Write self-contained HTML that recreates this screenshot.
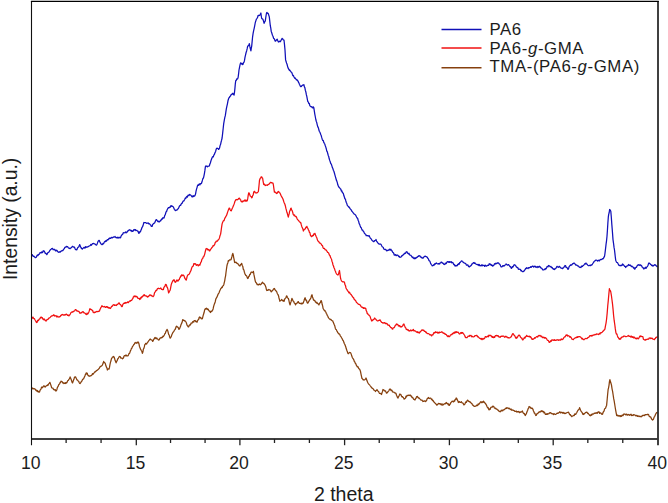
<!DOCTYPE html>
<html><head><meta charset="utf-8">
<style>
html,body{margin:0;padding:0;background:#fff;}
body{width:668px;height:503px;overflow:hidden;}
svg{display:block;font-family:"Liberation Sans",sans-serif;}
</style></head>
<body>
<svg width="668" height="503" viewBox="0 0 668 503">
<rect x="0" y="0" width="668" height="503" fill="#fff"/>
<defs><filter id="bl" x="-5%" y="-5%" width="110%" height="110%" color-interpolation-filters="sRGB"><feGaussianBlur stdDeviation="0.3"/></filter></defs>
<g fill="none" stroke-width="1.25" stroke-linejoin="round" filter="url(#bl)">
<polyline stroke="#1010b8" points="31.80,254.70 32.31,254.62 32.83,256.04 33.34,256.35 33.86,256.07 34.37,256.84 34.89,257.20 35.40,257.70 35.92,257.39 36.45,257.05 36.98,255.56 37.50,254.94 38.02,255.55 38.55,254.46 39.08,254.39 39.60,253.50 40.12,252.50 40.65,252.82 41.17,252.91 41.70,251.92 42.23,252.62 42.75,252.26 43.27,250.74 43.80,251.10 44.30,251.04 44.80,252.36 45.30,253.51 45.80,253.33 46.30,253.70 46.80,254.70 47.28,253.99 47.76,252.84 48.24,252.51 48.72,252.21 49.20,251.69 49.68,250.73 50.16,250.12 50.64,249.51 51.12,249.24 51.60,248.70 52.10,248.58 52.60,248.37 53.10,249.69 53.60,249.46 54.10,249.76 54.60,249.29 55.10,249.90 55.62,250.86 56.15,250.95 56.67,250.19 57.20,250.77 57.73,251.59 58.25,251.85 58.77,252.44 59.30,252.10 59.80,251.72 60.30,252.03 60.80,251.54 61.30,250.76 61.80,250.89 62.30,250.50 62.82,250.51 63.35,249.93 63.88,248.93 64.40,248.52 64.92,247.22 65.45,246.99 65.97,247.24 66.50,246.30 67.01,246.52 67.53,246.53 68.04,247.40 68.56,247.96 69.07,248.26 69.59,248.18 70.10,248.70 70.58,248.13 71.06,247.75 71.54,247.65 72.02,246.81 72.50,246.30 73.03,246.60 73.55,247.19 74.08,246.99 74.60,247.46 75.12,248.83 75.65,249.68 76.17,249.58 76.70,249.90 77.20,248.87 77.70,247.67 78.20,247.25 78.70,247.04 79.20,245.86 79.70,244.60 80.15,245.68 80.60,247.15 81.05,247.30 81.50,248.70 81.98,248.54 82.46,248.97 82.94,248.27 83.42,247.92 83.90,247.48 84.38,247.69 84.86,248.08 85.34,246.57 85.82,247.48 86.30,246.90 86.81,247.18 87.33,247.10 87.84,246.72 88.36,246.65 88.87,246.07 89.39,245.96 89.90,245.70 90.41,245.27 90.93,244.42 91.44,245.23 91.96,244.48 92.47,243.64 92.99,243.74 93.50,243.40 94.00,243.66 94.50,243.77 95.00,244.03 95.50,244.59 96.00,244.99 96.50,245.10 96.98,244.32 97.46,243.16 97.94,241.62 98.42,240.96 98.90,240.40 99.40,240.65 99.90,241.92 100.40,243.01 100.90,243.62 101.40,244.32 101.90,244.60 102.40,244.61 102.90,243.40 103.40,243.79 103.90,243.13 104.40,241.87 104.90,241.35 105.40,241.60 105.93,240.55 106.45,241.21 106.97,240.12 107.50,239.55 108.03,239.90 108.55,239.13 109.07,238.37 109.60,238.60 110.07,237.96 110.53,238.30 111.00,238.10 111.51,237.46 112.03,237.44 112.54,237.88 113.06,237.35 113.57,236.99 114.09,237.03 114.60,236.90 115.05,236.48 115.50,237.24 115.95,237.54 116.40,237.90 116.93,237.41 117.45,237.25 117.97,238.31 118.50,237.71 119.03,237.24 119.55,237.75 120.07,237.99 120.60,237.50 121.10,236.03 121.60,235.23 122.10,234.61 122.60,234.61 123.10,233.02 123.60,232.70 124.10,232.89 124.60,232.75 125.10,232.46 125.60,231.91 126.10,232.87 126.60,232.10 127.10,232.12 127.60,231.32 128.10,230.51 128.60,230.71 129.10,229.95 129.60,229.70 130.06,230.17 130.52,230.17 130.98,230.96 131.44,230.52 131.90,231.50 132.38,230.82 132.86,231.36 133.34,230.83 133.82,229.63 134.30,229.50 134.78,230.16 135.26,229.55 135.74,230.60 136.22,230.48 136.70,230.30 137.18,230.78 137.66,231.15 138.14,231.41 138.62,233.23 139.10,233.30 139.58,231.81 140.06,232.07 140.54,231.43 141.02,230.04 141.50,229.10 141.98,227.32 142.46,226.97 142.94,225.80 143.42,224.11 143.90,222.50 144.38,222.63 144.86,222.57 145.34,222.65 145.82,222.57 146.30,223.10 146.80,223.44 147.30,223.21 147.80,222.97 148.30,222.95 148.80,223.83 149.30,223.70 149.78,223.95 150.26,224.78 150.74,225.08 151.22,226.38 151.70,226.40 152.18,226.30 152.66,224.41 153.14,224.00 153.62,223.52 154.10,223.10 154.58,223.08 155.06,222.10 155.54,220.77 156.02,219.90 156.50,219.60 156.98,220.30 157.46,220.99 157.94,221.59 158.42,221.22 158.90,221.90 159.38,221.98 159.86,221.24 160.34,220.50 160.82,220.74 161.30,219.60 161.80,218.83 162.30,219.12 162.80,217.82 163.30,217.54 163.80,218.18 164.30,217.20 164.75,215.45 165.20,214.86 165.65,213.29 166.10,211.80 166.58,211.44 167.06,209.94 167.54,209.06 168.02,208.15 168.50,207.60 169.00,207.81 169.50,207.15 170.00,207.34 170.50,206.94 171.00,205.59 171.50,205.80 171.98,206.35 172.46,206.21 172.94,206.59 173.42,207.12 173.90,208.20 174.35,209.31 174.80,209.80 175.25,210.46 175.70,210.60 176.18,210.02 176.66,210.04 177.14,209.91 177.62,208.99 178.10,208.80 178.60,208.13 179.10,206.87 179.60,205.90 180.10,205.39 180.60,205.49 181.10,204.26 181.60,203.40 182.13,203.30 182.67,201.94 183.20,200.99 183.73,201.00 184.27,200.36 184.80,199.20 185.32,197.98 185.84,198.37 186.37,197.03 186.89,196.53 187.41,197.07 187.93,195.36 188.46,195.10 188.98,195.62 189.50,194.40 189.98,194.77 190.46,194.82 190.94,195.37 191.42,195.96 191.90,196.80 192.43,196.87 192.97,195.71 193.50,196.58 194.03,195.56 194.57,196.13 195.10,195.20 195.58,193.87 196.06,191.11 196.54,189.15 197.02,187.57 197.50,185.70 198.00,184.84 198.50,185.31 199.00,184.16 199.50,183.81 200.00,184.88 200.50,183.61 201.00,183.74 201.50,183.30 201.98,181.79 202.46,180.16 202.94,178.37 203.42,178.12 203.90,176.10 204.40,173.59 204.90,170.42 205.40,166.60 205.90,165.96 206.40,166.00 206.90,166.46 207.40,166.87 207.90,166.16 208.40,166.26 208.90,166.13 209.40,165.80 209.88,164.02 210.36,162.98 210.84,161.21 211.32,159.68 211.80,158.60 212.28,157.23 212.76,156.73 213.24,156.94 213.72,155.41 214.20,154.70 214.68,153.63 215.16,152.34 215.64,151.48 216.12,149.43 216.60,148.30 217.08,148.19 217.56,148.38 218.04,148.52 218.52,149.43 219.00,149.10 219.53,148.05 220.07,145.62 220.60,144.30 221.10,141.97 221.60,140.16 222.10,138.00 222.63,133.31 223.17,128.53 223.70,123.60 224.23,120.61 224.77,117.66 225.30,115.70 225.83,112.14 226.37,108.70 226.90,106.10 227.43,103.81 227.97,100.77 228.50,99.00 228.98,97.61 229.46,97.59 229.94,96.31 230.42,96.21 230.90,95.00 231.43,94.46 231.97,94.44 232.50,93.40 233.03,93.45 233.57,94.47 234.10,95.00 234.50,92.21 234.90,88.60 235.30,84.06 235.70,80.70 236.18,80.69 236.66,78.96 237.14,79.17 237.62,78.82 238.10,77.50 238.55,74.20 239.00,70.00 239.53,67.35 240.07,64.65 240.60,62.80 241.08,63.14 241.56,64.03 242.04,63.47 242.52,64.63 243.00,64.40 243.50,62.57 244.00,62.31 244.50,60.40 245.03,57.11 245.57,54.88 246.10,52.50 246.63,50.93 247.17,48.66 247.70,46.10 248.23,45.87 248.77,44.98 249.30,43.70 249.83,46.44 250.37,48.77 250.90,50.90 251.30,48.05 251.70,46.10 252.15,41.36 252.60,36.80 253.15,33.12 253.70,30.40 254.23,28.07 254.77,25.37 255.30,22.50 255.83,20.82 256.37,19.22 256.90,18.50 257.50,17.55 258.10,15.30 258.63,15.73 259.17,15.37 259.70,15.30 260.30,14.21 260.90,13.00 261.30,16.24 261.70,18.50 262.30,18.83 262.90,19.30 263.50,21.15 264.10,23.30 264.70,21.87 265.30,20.90 265.90,16.61 266.50,13.00 267.03,12.43 267.57,13.41 268.10,13.30 268.70,14.98 269.30,16.90 269.80,21.40 270.30,25.70 270.75,27.84 271.20,31.20 271.80,33.00 272.40,35.20 273.00,36.29 273.60,38.40 274.10,38.58 274.60,39.46 275.10,40.96 275.60,41.20 276.13,40.39 276.67,39.73 277.20,39.20 277.80,40.76 278.40,42.00 278.90,41.53 279.40,41.11 279.90,41.74 280.40,41.60 280.93,40.53 281.47,39.68 282.00,38.40 282.50,38.71 283.00,39.46 283.50,39.92 284.00,40.00 284.50,44.63 285.00,50.00 285.60,59.90 286.08,61.47 286.56,63.03 287.04,64.26 287.52,66.10 288.00,67.80 288.48,68.55 288.97,69.70 289.45,70.38 289.93,70.15 290.42,71.34 290.90,71.80 291.40,72.00 291.90,72.87 292.40,74.32 292.90,75.66 293.40,75.49 293.90,76.80 294.40,77.67 294.90,78.34 295.40,78.04 295.90,79.07 296.40,79.79 296.90,79.62 297.40,80.58 297.90,80.80 298.40,82.11 298.90,82.90 299.40,84.25 299.90,85.29 300.40,86.36 300.90,86.70 301.40,86.47 301.90,85.58 302.40,85.35 302.90,84.97 303.40,85.13 303.90,84.70 304.38,86.81 304.85,87.57 305.32,90.20 305.80,91.70 306.30,94.48 306.80,96.44 307.30,99.15 307.80,101.60 308.30,101.96 308.80,103.59 309.30,103.46 309.80,105.61 310.30,106.20 310.80,106.60 311.30,106.95 311.80,106.61 312.30,107.68 312.80,107.91 313.30,106.93 313.80,107.60 314.30,110.96 314.80,114.03 315.30,116.75 315.80,119.50 316.30,121.45 316.80,122.76 317.30,125.09 317.80,126.83 318.30,127.67 318.80,129.50 319.28,131.24 319.77,132.04 320.25,132.98 320.73,134.52 321.22,135.56 321.70,137.40 322.21,139.17 322.73,140.44 323.24,140.47 323.76,142.34 324.27,143.27 324.79,144.07 325.30,145.80 325.79,147.14 326.27,148.70 326.76,151.02 327.25,151.61 327.74,153.49 328.23,155.46 328.71,156.50 329.20,158.80 329.72,160.40 330.24,161.79 330.76,163.53 331.28,164.07 331.80,165.60 332.32,167.38 332.84,168.42 333.36,170.28 333.88,171.23 334.40,173.00 334.89,174.87 335.38,176.63 335.86,178.27 336.35,180.11 336.84,181.13 337.32,182.66 337.81,184.79 338.30,185.90 338.81,187.06 339.32,187.56 339.83,188.08 340.34,188.72 340.85,189.25 341.36,191.01 341.87,190.83 342.38,192.49 342.89,192.98 343.40,193.70 343.89,195.80 344.38,196.97 344.86,198.71 345.35,198.99 345.84,200.95 346.32,202.50 346.81,203.59 347.30,205.30 347.82,205.95 348.34,206.40 348.86,207.29 349.38,207.20 349.90,208.47 350.42,209.13 350.94,209.58 351.46,210.36 351.98,211.55 352.50,211.80 353.01,212.70 353.52,213.07 354.03,213.93 354.54,214.19 355.05,214.59 355.56,214.95 356.07,215.97 356.58,217.06 357.09,218.09 357.60,218.20 358.12,220.22 358.64,221.34 359.16,223.56 359.68,224.39 360.20,226.00 360.70,227.34 361.20,227.61 361.70,228.94 362.20,230.15 362.70,230.06 363.20,231.20 363.70,231.49 364.20,232.87 364.70,233.49 365.20,234.00 365.70,234.25 366.20,235.70 366.70,235.54 367.20,235.60 367.70,235.57 368.20,236.21 368.70,235.82 369.20,235.70 369.66,236.79 370.12,237.78 370.58,238.33 371.04,238.73 371.50,239.50 372.05,240.39 372.60,240.80 373.15,241.36 373.70,241.70 374.16,241.44 374.62,240.69 375.08,240.56 375.54,240.13 376.00,239.50 376.55,241.04 377.10,241.75 377.65,242.76 378.20,243.20 378.70,243.82 379.20,244.14 379.70,244.10 380.20,243.99 380.70,244.12 381.20,244.70 381.70,245.74 382.20,246.72 382.70,247.01 383.20,247.21 383.70,248.92 384.20,249.20 384.70,249.43 385.20,249.65 385.70,249.31 386.20,250.21 386.70,250.79 387.20,250.70 387.73,250.38 388.26,250.07 388.79,250.28 389.31,249.17 389.84,249.64 390.37,250.04 390.90,249.20 391.38,250.22 391.85,250.56 392.32,251.71 392.80,252.35 393.27,252.54 393.75,253.29 394.22,254.99 394.70,255.20 395.20,254.88 395.70,254.60 396.20,255.66 396.70,255.23 397.20,255.02 397.70,255.20 398.25,255.77 398.80,256.63 399.35,256.39 399.90,257.40 400.40,257.25 400.90,256.97 401.40,256.74 401.90,255.61 402.40,255.72 402.90,255.20 403.43,254.32 403.96,254.29 404.49,253.24 405.01,253.61 405.54,253.21 406.07,251.96 406.60,251.70 407.08,251.75 407.55,253.22 408.02,253.30 408.50,253.93 408.98,253.23 409.45,254.88 409.92,254.93 410.40,255.20 410.93,255.43 411.46,256.08 411.99,257.02 412.51,257.54 413.04,257.19 413.57,258.29 414.10,258.60 414.56,257.89 415.02,258.78 415.48,257.80 415.94,258.22 416.40,257.40 416.90,257.47 417.40,257.05 417.90,256.32 418.40,256.44 418.90,255.64 419.40,255.90 419.90,255.78 420.40,256.97 420.90,256.86 421.40,257.79 421.90,257.45 422.40,258.20 422.90,258.17 423.40,257.84 423.90,256.93 424.40,256.32 424.90,256.39 425.40,256.20 425.90,256.64 426.40,256.54 426.90,257.11 427.40,257.38 427.90,258.59 428.40,258.90 428.95,260.57 429.50,260.75 430.05,261.62 430.60,263.40 431.15,264.26 431.70,264.99 432.25,265.77 432.80,265.70 433.30,265.48 433.80,264.71 434.30,265.02 434.80,263.63 435.30,264.05 435.80,263.40 436.30,262.97 436.80,263.53 437.30,263.79 437.80,263.76 438.30,263.60 438.80,264.20 439.26,263.42 439.72,263.85 440.18,262.95 440.64,262.71 441.10,262.20 441.63,262.08 442.16,263.07 442.69,262.82 443.21,263.47 443.74,264.20 444.27,264.61 444.80,264.20 445.30,263.13 445.80,263.75 446.30,263.40 446.80,262.21 447.30,261.87 447.80,261.60 448.30,261.76 448.80,262.29 449.30,261.61 449.80,262.33 450.30,262.21 450.80,261.90 451.27,261.61 451.73,262.88 452.20,262.50 452.70,262.44 453.20,263.24 453.70,264.58 454.20,264.35 454.70,265.41 455.20,266.20 455.70,265.43 456.20,265.65 456.70,265.93 457.20,265.77 457.70,264.30 458.20,264.70 458.68,263.62 459.15,264.25 459.62,262.67 460.10,262.53 460.57,261.85 461.05,261.35 461.52,260.80 462.00,261.00 462.50,261.56 463.00,262.08 463.50,262.36 464.00,262.95 464.50,263.06 465.00,263.20 465.50,263.46 466.00,264.21 466.50,265.09 467.00,265.04 467.50,264.90 468.00,265.05 468.50,266.69 469.00,266.62 469.50,266.90 470.00,266.20 470.50,266.07 471.00,265.52 471.50,264.98 472.00,263.84 472.50,263.76 473.00,263.36 473.50,262.57 474.00,262.50 474.48,263.33 474.97,262.99 475.45,263.63 475.93,264.00 476.42,264.34 476.90,264.30 477.38,264.75 477.85,264.93 478.32,264.36 478.80,265.52 479.27,264.50 479.75,265.71 480.22,265.76 480.70,265.40 481.20,265.89 481.70,264.77 482.20,264.83 482.70,265.84 483.20,265.36 483.70,265.40 484.20,265.35 484.70,266.35 485.20,265.16 485.70,265.98 486.20,265.99 486.70,266.20 487.20,265.31 487.70,265.32 488.20,265.39 488.70,265.27 489.20,263.70 489.70,264.00 490.20,264.40 490.70,264.16 491.20,265.52 491.70,264.89 492.20,265.18 492.70,266.20 493.20,265.54 493.70,265.53 494.20,264.44 494.70,263.68 495.20,264.11 495.70,263.20 496.20,263.63 496.70,263.70 497.20,262.93 497.70,263.09 498.20,262.84 498.70,263.20 499.18,263.90 499.67,264.20 500.15,264.82 500.63,266.06 501.12,266.92 501.60,266.90 502.10,266.70 502.60,265.70 503.10,266.15 503.60,265.54 504.10,265.97 504.60,265.27 505.10,265.11 505.60,264.60 506.10,264.00 506.60,264.28 507.10,265.02 507.60,265.16 508.10,264.64 508.60,264.69 509.10,265.40 509.56,265.82 510.02,266.63 510.48,266.64 510.94,267.58 511.40,268.40 511.90,267.89 512.40,266.53 512.90,266.99 513.40,266.14 513.90,265.06 514.40,264.70 514.90,264.92 515.40,265.49 515.90,265.96 516.40,267.05 516.90,267.20 517.40,267.74 517.90,267.71 518.40,269.28 518.90,269.20 519.40,269.20 519.90,269.45 520.40,269.33 520.90,270.85 521.40,270.39 521.90,271.24 522.40,271.51 522.90,271.81 523.40,271.40 523.95,271.09 524.50,270.50 525.05,269.74 525.60,268.40 526.10,268.71 526.60,267.66 527.10,268.08 527.60,268.04 528.10,268.51 528.60,267.70 529.13,267.88 529.66,267.56 530.19,267.40 530.71,266.65 531.24,267.25 531.77,266.62 532.30,266.20 532.77,266.15 533.25,266.33 533.73,267.13 534.20,266.59 534.67,266.17 535.15,266.23 535.62,267.07 536.10,266.90 536.63,266.99 537.16,267.47 537.69,266.46 538.21,266.78 538.74,267.22 539.27,266.27 539.80,266.90 540.30,266.84 540.80,267.96 541.30,268.07 541.80,268.35 542.30,269.07 542.80,269.90 543.35,270.01 543.90,269.79 544.45,269.08 545.00,269.60 545.50,268.38 546.00,268.85 546.50,267.94 547.00,266.66 547.50,266.50 548.00,266.83 548.50,265.48 549.00,265.79 549.50,265.80 550.00,266.63 550.50,266.77 551.00,266.52 551.50,267.71 552.00,267.50 552.50,268.04 553.00,268.81 553.50,269.25 554.00,269.00 554.50,269.50 555.00,269.11 555.50,268.28 556.00,268.20 556.50,267.36 557.00,266.30 557.50,266.73 558.00,266.97 558.50,267.35 559.00,266.43 559.50,266.47 560.00,267.00 560.50,267.69 561.00,268.06 561.50,268.04 562.00,268.34 562.50,268.70 563.00,267.93 563.50,267.96 564.00,267.19 564.50,266.26 565.00,265.50 565.50,265.51 566.00,267.29 566.50,267.39 567.00,267.67 567.50,268.47 568.00,269.40 568.50,268.79 569.00,266.95 569.50,266.23 570.00,265.60 570.50,265.00 571.00,265.26 571.50,264.77 572.00,264.80 572.50,263.92 573.00,263.67 573.50,263.36 574.00,263.00 574.50,263.44 575.00,263.86 575.50,264.65 576.00,265.23 576.50,265.00 577.00,265.23 577.50,265.90 578.00,265.80 578.50,266.15 579.00,266.79 579.50,267.26 580.00,267.50 580.50,267.24 581.00,267.50 581.50,266.03 582.00,266.36 582.50,266.53 583.00,265.50 583.50,265.41 584.00,264.76 584.50,264.07 585.00,263.70 585.50,264.03 586.00,263.00 586.50,264.00 587.00,264.14 587.50,264.91 588.00,265.40 588.50,265.73 589.00,265.70 589.50,265.37 590.00,265.32 590.50,265.61 591.00,264.86 591.50,265.22 592.00,264.70 592.50,264.01 593.00,263.14 593.50,262.64 594.00,261.50 594.50,261.16 595.00,260.70 595.50,260.56 596.00,259.98 596.50,260.17 597.00,260.26 597.50,261.08 598.00,260.68 598.50,260.23 599.00,260.50 599.50,260.92 600.00,259.61 600.50,259.69 601.00,259.40 601.50,259.52 602.00,259.23 602.50,258.65 603.00,258.91 603.50,258.30 604.05,257.13 604.60,256.00 605.10,252.40 605.60,248.20 606.07,244.19 606.53,240.86 607.00,236.20 607.43,230.17 607.87,222.96 608.30,217.20 608.73,214.11 609.17,212.72 609.60,209.50 610.20,209.97 610.80,211.20 611.30,216.99 611.80,224.10 612.40,231.50 613.00,239.60 613.50,243.04 614.00,247.17 614.50,250.00 614.90,253.36 615.30,257.00 615.70,260.20 616.13,261.28 616.57,262.20 617.00,262.50 617.50,262.52 618.00,263.86 618.50,264.30 619.00,265.49 619.50,265.37 620.00,265.80 620.50,265.60 621.00,265.09 621.50,265.67 622.00,265.46 622.50,263.99 623.00,264.30 623.54,265.01 624.08,265.47 624.62,266.46 625.16,266.33 625.70,267.50 626.17,266.67 626.63,266.19 627.10,265.97 627.57,265.91 628.03,265.50 628.50,264.50 629.00,265.20 629.50,265.35 630.00,264.82 630.50,265.55 631.00,266.00 631.50,266.49 632.00,266.21 632.50,266.76 633.00,267.00 633.50,268.07 634.00,267.46 634.50,269.00 635.00,269.00 635.50,267.70 636.00,267.34 636.50,267.32 637.00,266.00 637.50,265.21 638.00,265.28 638.50,264.76 639.00,264.50 639.50,265.24 640.00,265.59 640.50,264.80 641.00,265.29 641.50,265.50 642.00,266.88 642.50,267.21 643.00,267.58 643.50,268.80 644.00,268.95 644.50,268.14 645.00,268.13 645.50,267.25 646.00,268.40 646.50,267.50 647.00,266.82 647.50,266.30 648.00,265.46 648.50,263.57 649.00,263.00 649.50,263.43 650.00,263.67 650.50,264.49 651.00,264.50 651.50,265.48 652.00,265.12 652.50,266.00 653.00,265.48 653.50,265.89 654.00,265.28 654.50,264.68 655.00,265.00 655.50,264.83 656.00,265.61 656.50,265.92 657.00,266.68 657.50,266.30"/>
<polyline stroke="#f01010" points="31.80,318.90 32.40,317.49 33.00,317.10 33.45,318.19 33.90,318.67 34.35,318.56 34.80,319.50 35.25,320.24 35.70,320.93 36.15,321.96 36.60,322.50 37.08,322.30 37.56,320.73 38.04,320.04 38.52,320.57 39.00,319.50 39.48,318.93 39.96,318.91 40.44,317.36 40.92,317.50 41.40,317.10 41.85,317.86 42.30,317.62 42.75,319.07 43.20,318.90 43.68,319.82 44.16,318.96 44.64,319.32 45.12,320.40 45.60,320.70 46.08,321.07 46.56,320.05 47.04,319.58 47.52,319.63 48.00,319.50 48.48,318.36 48.96,318.15 49.44,317.97 49.92,317.57 50.40,317.10 50.90,316.43 51.40,316.12 51.90,315.81 52.40,315.84 52.90,315.31 53.40,315.30 53.86,314.75 54.32,316.01 54.78,315.74 55.24,315.98 55.70,315.90 56.20,315.66 56.70,316.99 57.20,317.00 57.70,316.17 58.20,316.67 58.70,317.10 59.20,317.01 59.70,316.60 60.20,316.51 60.70,315.39 61.20,315.56 61.70,314.70 62.20,314.94 62.70,314.42 63.20,314.82 63.70,315.24 64.20,315.18 64.70,314.70 65.18,314.71 65.66,314.82 66.14,314.05 66.62,314.34 67.10,314.70 67.55,315.42 68.00,315.18 68.45,315.14 68.90,315.90 69.38,315.25 69.86,314.74 70.34,313.98 70.82,312.84 71.30,312.30 71.80,312.01 72.30,311.91 72.80,312.09 73.30,311.53 73.80,311.15 74.30,311.10 74.75,310.79 75.20,309.84 75.65,309.56 76.10,309.90 76.55,310.48 77.00,311.18 77.45,310.93 77.90,311.10 78.38,311.31 78.86,311.36 79.34,312.18 79.82,313.21 80.30,312.90 80.80,313.08 81.30,312.56 81.80,312.80 82.30,311.73 82.80,311.92 83.30,311.70 83.78,312.81 84.26,312.77 84.74,313.08 85.22,313.30 85.70,314.10 86.18,314.05 86.66,314.50 87.14,313.05 87.62,314.02 88.10,313.50 88.55,312.75 89.00,311.64 89.45,310.24 89.90,308.70 90.35,309.43 90.80,309.33 91.25,309.69 91.70,309.90 92.18,310.40 92.66,310.48 93.14,312.22 93.62,312.40 94.10,312.90 94.58,312.24 95.06,312.43 95.54,312.16 96.02,311.74 96.50,311.70 97.00,311.38 97.50,311.55 98.00,311.57 98.50,311.46 99.00,311.14 99.50,311.10 99.98,309.36 100.46,308.56 100.94,307.41 101.42,306.90 101.90,305.70 102.40,306.41 102.90,306.52 103.40,306.72 103.90,306.94 104.40,306.36 104.90,306.90 105.36,307.46 105.82,307.30 106.28,306.56 106.74,306.54 107.20,307.30 107.73,306.82 108.27,308.06 108.80,307.55 109.33,307.55 109.87,308.47 110.40,308.50 110.90,307.68 111.40,306.70 111.90,306.22 112.40,306.14 112.90,305.04 113.40,304.90 113.90,304.68 114.40,305.40 114.90,305.14 115.40,305.05 115.90,305.36 116.40,305.50 116.90,304.43 117.40,304.54 117.90,304.19 118.40,303.46 118.90,302.95 119.40,303.10 119.88,304.38 120.36,304.55 120.84,304.85 121.32,306.13 121.80,306.70 122.28,306.42 122.76,304.59 123.24,303.87 123.72,303.33 124.20,303.10 124.70,303.31 125.20,302.42 125.70,303.09 126.20,302.95 126.70,302.66 127.20,302.50 127.68,301.87 128.16,302.69 128.64,302.20 129.12,301.56 129.60,301.30 130.06,300.67 130.52,301.03 130.98,300.43 131.44,300.45 131.90,300.10 132.38,299.01 132.86,298.60 133.34,296.96 133.82,296.46 134.30,295.90 134.78,296.68 135.26,296.67 135.74,295.99 136.22,296.88 136.70,296.50 137.20,296.73 137.70,298.12 138.20,298.34 138.70,298.38 139.20,298.65 139.70,299.50 140.18,298.21 140.66,298.83 141.14,297.05 141.62,297.55 142.10,296.50 142.58,296.79 143.06,295.88 143.54,294.96 144.02,295.57 144.50,294.70 145.00,295.76 145.50,295.79 146.00,295.91 146.50,296.13 147.00,296.49 147.50,297.10 148.00,296.34 148.50,296.64 149.00,295.96 149.50,295.27 150.00,294.80 150.50,295.00 151.00,295.57 151.50,295.39 152.00,296.02 152.50,296.12 153.00,296.70 153.50,296.17 154.00,295.16 154.50,292.88 155.00,292.08 155.50,291.21 156.00,290.40 156.45,290.63 156.90,289.90 157.35,288.82 157.80,288.60 158.34,288.08 158.88,288.60 159.42,288.71 159.96,288.73 160.50,288.00 160.98,288.14 161.46,289.26 161.94,289.34 162.42,289.42 162.90,289.80 163.40,289.48 163.90,287.43 164.40,286.80 164.90,286.32 165.40,284.62 165.90,284.40 166.40,284.94 166.90,286.98 167.40,287.40 168.00,289.70 168.60,292.80 169.05,292.26 169.50,291.14 169.95,290.58 170.40,289.20 170.85,286.62 171.30,284.40 171.90,282.68 172.50,281.40 173.00,280.51 173.50,280.71 174.00,279.60 174.55,281.10 175.10,282.30 175.60,282.24 176.10,281.44 176.60,280.20 177.10,279.99 177.60,280.87 178.10,281.10 178.70,279.80 179.30,279.60 179.75,277.90 180.20,277.50 180.70,276.00 181.20,276.21 181.70,274.80 182.22,275.35 182.75,275.56 183.28,275.03 183.80,275.40 184.30,276.76 184.80,278.19 185.30,279.00 185.75,279.43 186.20,280.20 186.65,278.50 187.10,276.60 187.55,275.61 188.00,274.81 188.45,274.47 188.90,274.20 189.45,273.85 190.00,272.40 190.47,271.29 190.95,270.60 191.43,268.74 191.90,267.60 192.38,266.49 192.86,266.40 193.34,265.66 193.82,263.72 194.30,263.60 194.78,264.16 195.26,263.67 195.74,264.02 196.22,265.42 196.70,265.20 197.23,264.56 197.77,264.84 198.30,265.88 198.83,265.09 199.37,264.66 199.90,265.20 200.38,263.45 200.86,262.28 201.34,261.70 201.82,259.52 202.30,258.80 202.78,258.44 203.26,256.75 203.74,256.64 204.22,255.61 204.70,254.10 205.20,251.94 205.70,250.02 206.20,248.50 206.73,248.87 207.27,248.74 207.80,249.91 208.33,249.46 208.87,249.81 209.40,250.90 209.93,250.91 210.47,249.28 211.00,249.04 211.53,248.16 212.07,247.31 212.60,246.90 213.13,245.49 213.67,245.88 214.20,245.16 214.73,244.36 215.27,242.36 215.80,242.10 216.33,241.18 216.87,241.23 217.40,241.22 217.93,240.09 218.47,239.78 219.00,239.00 219.53,237.63 220.07,235.46 220.60,234.20 221.10,230.82 221.60,227.06 222.10,223.90 222.58,222.58 223.06,221.39 223.54,220.71 224.02,220.74 224.50,219.10 225.02,217.95 225.54,217.15 226.06,216.06 226.58,215.40 227.10,213.70 227.62,212.15 228.15,210.63 228.67,209.26 229.20,208.10 229.72,208.54 230.25,209.99 230.78,210.75 231.30,210.90 231.80,209.40 232.30,208.22 232.80,207.29 233.30,206.00 233.83,204.74 234.35,203.38 234.88,201.52 235.40,200.50 235.93,199.65 236.45,199.79 236.97,199.38 237.50,199.80 238.03,199.52 238.55,198.50 239.07,198.16 239.60,198.40 240.12,199.46 240.65,199.86 241.17,201.43 241.70,201.90 242.17,201.66 242.63,201.94 243.10,200.72 243.57,200.97 244.03,201.15 244.50,200.50 244.97,199.91 245.43,201.13 245.90,200.04 246.37,200.89 246.83,201.18 247.30,200.50 247.77,198.38 248.23,195.11 248.70,192.80 249.20,193.12 249.70,194.57 250.20,196.01 250.70,196.30 251.17,196.48 251.63,197.78 252.10,197.70 252.62,195.62 253.15,195.12 253.67,192.32 254.20,191.40 254.72,191.49 255.25,192.66 255.78,192.88 256.30,192.80 256.82,193.02 257.35,192.58 257.88,192.09 258.40,191.40 258.95,186.12 259.50,180.30 260.07,178.68 260.63,177.87 261.20,176.80 261.67,176.79 262.13,178.03 262.60,178.20 263.15,181.58 263.70,184.50 264.16,184.29 264.62,184.17 265.08,185.57 265.54,185.49 266.00,185.20 266.47,185.15 266.93,185.02 267.40,185.34 267.87,184.67 268.33,184.47 268.80,184.50 269.32,183.75 269.85,183.11 270.38,182.26 270.90,182.40 271.42,182.78 271.95,182.63 272.48,183.02 273.00,183.10 273.47,185.49 273.93,188.90 274.40,192.10 274.92,191.94 275.45,192.28 275.98,192.81 276.50,193.50 277.02,193.44 277.55,192.31 278.08,191.79 278.60,191.40 279.12,192.43 279.65,192.78 280.18,193.34 280.70,194.90 281.20,195.82 281.70,196.65 282.20,197.73 282.70,198.40 283.23,199.71 283.75,201.46 284.27,202.92 284.80,204.00 285.32,205.71 285.85,208.14 286.38,210.20 286.90,212.30 287.37,213.55 287.83,215.44 288.30,217.20 288.77,215.18 289.23,213.57 289.70,210.90 290.17,210.55 290.63,208.72 291.10,208.10 291.62,209.88 292.15,210.62 292.68,212.23 293.20,214.40 293.67,214.77 294.13,215.63 294.60,214.97 295.07,216.17 295.53,216.69 296.00,216.50 296.50,217.11 297.00,218.52 297.50,219.61 298.00,220.00 298.47,220.27 298.93,221.18 299.40,221.68 299.87,221.93 300.33,222.75 300.80,222.70 301.32,224.92 301.84,226.66 302.36,227.78 302.88,228.89 303.40,231.00 303.90,229.99 304.40,229.29 304.90,229.13 305.40,228.73 305.90,227.09 306.40,227.31 306.90,226.40 307.40,227.85 307.90,228.48 308.40,229.85 308.90,230.51 309.40,232.44 309.90,232.62 310.40,235.08 310.90,235.99 311.40,236.70 311.90,236.39 312.40,235.40 312.90,235.82 313.40,235.40 313.90,233.77 314.40,234.17 314.90,233.30 315.39,234.92 315.87,235.81 316.36,237.01 316.84,237.79 317.33,239.61 317.81,240.82 318.30,241.30 318.87,241.70 319.43,242.86 320.00,243.00 320.50,243.53 321.00,243.78 321.50,244.63 322.00,245.50 322.50,245.70 323.00,247.52 323.50,248.32 324.00,248.40 324.50,248.38 325.00,249.57 325.50,249.81 326.00,249.92 326.50,250.68 327.00,251.12 327.50,252.34 328.00,252.50 328.50,252.73 329.00,253.92 329.50,255.20 330.00,255.54 330.50,257.32 331.00,258.22 331.50,259.00 332.00,261.47 332.50,262.59 333.00,265.00 333.50,266.03 334.00,267.73 334.50,268.68 335.00,270.45 335.50,271.32 336.00,273.00 336.50,273.76 337.00,274.41 337.50,274.93 338.00,275.00 338.50,274.16 339.00,272.06 339.50,270.50 340.00,274.24 340.50,278.00 341.00,279.66 341.50,280.71 342.00,281.50 342.50,281.80 343.00,281.74 343.50,281.80 344.00,281.75 344.50,282.50 345.00,284.76 345.50,285.63 346.00,288.00 346.50,289.10 347.00,289.56 347.50,290.90 348.00,291.00 348.50,291.95 349.00,292.83 349.50,292.24 350.00,293.33 350.50,294.02 351.00,294.50 351.50,294.99 352.00,296.00 352.50,296.55 353.00,297.54 353.50,297.55 354.00,299.00 354.48,299.49 354.96,300.06 355.43,300.43 355.91,301.13 356.39,302.23 356.87,302.66 357.34,302.96 357.82,303.74 358.30,304.10 358.81,304.32 359.32,304.46 359.83,304.57 360.34,305.34 360.86,306.18 361.37,306.97 361.88,307.28 362.39,307.23 362.90,307.60 363.37,308.38 363.83,307.75 364.30,308.37 364.77,307.87 365.23,308.44 365.70,308.20 366.20,310.65 366.70,311.46 367.20,313.50 367.66,313.48 368.12,314.55 368.58,314.86 369.04,315.06 369.50,315.70 370.05,316.33 370.60,318.19 371.15,319.57 371.70,321.00 372.20,320.37 372.70,320.51 373.20,319.62 373.70,319.33 374.20,319.06 374.70,318.00 375.20,318.85 375.70,318.99 376.20,319.84 376.70,320.20 377.20,320.71 377.70,321.00 378.16,320.94 378.62,320.39 379.08,320.46 379.54,320.23 380.00,319.80 380.55,321.09 381.10,321.55 381.65,322.31 382.20,322.50 382.68,322.96 383.15,323.12 383.62,322.91 384.10,322.64 384.57,322.61 385.05,323.32 385.52,323.64 386.00,323.20 386.53,323.69 387.06,323.57 387.59,324.95 388.11,324.89 388.64,325.30 389.17,325.13 389.70,326.20 390.20,326.71 390.70,327.54 391.20,327.59 391.70,328.00 392.20,328.92 392.70,329.20 393.23,327.78 393.76,327.72 394.29,327.60 394.81,326.50 395.34,325.35 395.87,325.01 396.40,324.00 396.90,324.51 397.40,324.33 397.90,324.69 398.40,326.01 398.90,325.51 399.40,326.20 399.86,325.74 400.32,326.94 400.78,326.65 401.24,326.58 401.70,326.90 402.25,326.19 402.80,325.78 403.35,324.26 403.90,324.00 404.36,325.25 404.82,326.38 405.28,327.56 405.74,327.84 406.20,329.20 406.70,329.60 407.20,329.32 407.70,330.04 408.20,329.74 408.70,330.86 409.20,330.70 409.73,331.10 410.26,330.23 410.79,329.97 411.31,330.89 411.84,330.42 412.37,330.50 412.90,329.90 413.40,329.49 413.90,330.96 414.40,330.82 414.90,330.64 415.40,331.05 415.90,331.40 416.40,332.02 416.90,332.30 417.40,331.72 417.90,332.58 418.40,332.18 418.90,332.90 419.40,333.06 419.90,331.82 420.40,331.98 420.90,331.22 421.40,330.55 421.90,329.90 422.40,329.82 422.90,330.44 423.40,330.14 423.90,330.39 424.40,331.45 424.90,331.40 425.40,331.59 425.90,332.52 426.40,332.19 426.90,333.24 427.40,333.62 427.90,333.70 428.43,333.74 428.96,333.78 429.49,334.50 430.01,334.95 430.54,334.71 431.07,335.15 431.60,335.90 432.08,334.75 432.55,334.99 433.02,334.87 433.50,333.40 433.98,332.62 434.45,333.04 434.92,332.67 435.40,331.70 435.90,332.55 436.40,332.26 436.90,332.08 437.40,332.97 437.90,332.17 438.40,332.90 438.93,333.07 439.46,332.13 439.99,332.46 440.51,332.49 441.04,332.23 441.57,331.84 442.10,332.20 442.63,332.14 443.16,333.28 443.69,333.09 444.21,333.57 444.74,333.37 445.27,334.39 445.80,334.40 446.30,334.55 446.80,335.30 447.30,336.12 447.80,336.63 448.30,335.68 448.80,336.70 449.30,336.69 449.80,336.36 450.30,335.18 450.80,334.85 451.30,334.70 451.80,334.75 452.30,333.60 452.80,333.85 453.30,332.90 453.78,333.17 454.25,332.24 454.73,333.22 455.20,331.87 455.68,331.97 456.15,332.61 456.62,331.67 457.10,332.20 457.60,332.28 458.10,332.18 458.60,332.90 459.10,333.68 459.60,334.02 460.10,333.70 460.62,332.75 461.15,332.49 461.68,333.28 462.20,332.50 462.68,332.51 463.15,333.48 463.62,333.91 464.10,334.53 464.57,335.09 465.05,336.59 465.52,337.39 466.00,337.70 466.53,337.63 467.06,337.53 467.59,336.94 468.11,336.23 468.64,336.24 469.17,336.39 469.70,335.40 470.18,335.79 470.65,335.42 471.12,335.35 471.60,336.76 472.07,336.46 472.55,336.31 473.02,336.86 473.50,336.90 474.00,336.73 474.50,336.43 475.00,335.54 475.50,335.69 476.00,335.53 476.50,335.40 477.03,335.41 477.56,336.79 478.09,336.58 478.61,337.34 479.14,337.84 479.67,338.31 480.20,338.40 480.66,338.87 481.12,339.07 481.58,338.53 482.04,339.71 482.50,339.20 483.03,338.38 483.56,339.13 484.09,338.71 484.61,338.38 485.14,336.93 485.67,336.66 486.20,336.90 486.73,337.12 487.26,336.43 487.79,336.08 488.31,336.72 488.84,335.18 489.37,335.66 489.90,335.40 490.38,335.61 490.85,335.45 491.32,336.12 491.80,336.84 492.27,337.37 492.75,336.46 493.22,337.45 493.70,337.70 494.20,336.74 494.70,337.35 495.20,335.97 495.70,335.51 496.20,335.62 496.70,335.40 497.20,335.98 497.70,335.64 498.20,335.63 498.70,336.81 499.20,337.08 499.70,336.90 500.20,337.28 500.70,336.39 501.20,336.44 501.70,336.08 502.20,336.40 502.70,336.20 503.23,336.06 503.76,336.17 504.29,336.90 504.81,337.24 505.34,336.82 505.87,336.25 506.40,336.90 506.93,337.23 507.46,337.06 507.99,337.93 508.51,337.66 509.04,337.94 509.57,337.87 510.10,337.70 510.60,337.08 511.10,336.92 511.60,336.16 512.10,334.74 512.60,333.89 513.10,333.70 513.60,334.30 514.10,335.30 514.60,335.49 515.10,336.62 515.60,337.72 516.10,338.40 516.60,337.21 517.10,337.74 517.60,336.96 518.10,335.94 518.60,335.37 519.10,335.10 519.58,335.49 520.05,336.06 520.52,337.25 521.00,337.50 521.48,338.14 521.95,338.21 522.42,339.88 522.90,339.90 523.43,339.01 523.96,338.37 524.49,337.37 525.01,338.00 525.54,336.66 526.07,336.62 526.60,335.40 527.10,336.13 527.60,336.32 528.10,336.24 528.60,336.53 529.10,336.66 529.60,336.20 530.10,337.12 530.60,336.69 531.10,337.73 531.60,338.31 532.10,339.39 532.60,339.20 533.13,339.27 533.66,338.83 534.19,338.56 534.71,337.69 535.24,338.18 535.77,337.43 536.30,336.90 536.77,336.58 537.25,336.48 537.73,337.01 538.20,336.19 538.67,335.50 539.15,335.28 539.62,335.85 540.10,335.40 540.60,335.87 541.10,336.74 541.60,336.11 542.10,336.81 542.60,337.64 543.10,337.70 543.60,337.19 544.10,337.37 544.60,338.11 545.10,337.84 545.60,337.73 546.10,338.40 546.60,338.70 547.10,339.85 547.60,340.34 548.10,340.34 548.60,340.97 549.10,342.20 549.63,342.36 550.16,341.74 550.69,340.76 551.21,341.39 551.74,339.89 552.27,340.04 552.80,339.90 553.27,340.39 553.75,340.19 554.23,339.60 554.70,340.45 555.17,340.04 555.65,340.41 556.12,340.45 556.60,339.90 557.10,339.75 557.60,340.05 558.10,339.81 558.60,340.32 559.10,340.07 559.60,339.92 560.10,339.99 560.60,340.20 561.10,339.11 561.60,338.98 562.10,339.70 562.60,339.30 563.09,339.08 563.57,338.12 564.06,337.48 564.54,336.77 565.03,336.84 565.51,336.11 566.00,335.10 566.50,335.38 567.00,334.78 567.50,336.07 568.00,335.68 568.50,335.90 568.98,335.84 569.46,336.37 569.93,337.30 570.41,336.72 570.89,337.26 571.37,337.89 571.84,339.09 572.32,339.27 572.80,339.30 573.32,339.65 573.85,338.74 574.38,338.46 574.90,338.12 575.42,337.77 575.95,337.48 576.48,337.56 577.00,336.80 577.49,337.43 577.97,336.67 578.46,336.98 578.94,336.53 579.43,336.52 579.91,336.81 580.40,336.80 580.90,337.42 581.40,337.87 581.90,338.97 582.40,338.33 582.90,339.30 583.39,339.38 583.87,339.76 584.36,339.29 584.84,338.94 585.33,338.54 585.81,338.48 586.30,338.50 586.79,338.74 587.27,338.31 587.76,337.62 588.24,337.57 588.73,337.24 589.21,336.76 589.70,335.90 590.23,335.64 590.75,335.65 591.27,336.01 591.80,335.32 592.33,335.75 592.85,335.27 593.38,334.97 593.90,335.10 594.42,334.94 594.95,334.36 595.48,334.60 596.00,334.58 596.52,333.93 597.05,334.04 597.58,334.06 598.10,334.30 598.59,334.56 599.07,333.94 599.56,333.27 600.04,334.03 600.53,332.75 601.01,332.86 601.50,332.60 601.99,332.45 602.47,331.90 602.96,331.05 603.44,331.04 603.93,330.15 604.41,329.99 604.90,329.20 605.47,325.79 606.03,323.06 606.60,319.00 607.17,313.10 607.73,306.03 608.30,300.40 608.85,293.98 609.40,288.60 609.87,290.39 610.33,290.49 610.80,292.00 611.37,295.27 611.93,299.52 612.50,303.80 613.07,309.41 613.63,315.70 614.20,320.70 614.77,324.53 615.33,328.95 615.90,332.60 616.39,334.03 616.87,333.94 617.36,335.63 617.84,337.12 618.33,337.46 618.81,338.39 619.30,339.30 619.77,338.73 620.24,339.21 620.71,338.89 621.19,337.32 621.66,337.59 622.13,337.04 622.60,336.80 623.11,336.95 623.62,336.09 624.13,336.20 624.64,336.13 625.15,336.32 625.66,336.67 626.17,336.67 626.68,336.48 627.19,336.24 627.70,335.90 628.23,335.43 628.75,335.97 629.27,336.47 629.80,336.06 630.33,336.47 630.85,337.14 631.38,336.15 631.90,336.80 632.38,337.45 632.86,336.56 633.33,337.11 633.81,337.99 634.29,337.16 634.77,337.76 635.24,337.77 635.72,338.59 636.20,338.20 636.72,338.91 637.24,337.94 637.76,338.25 638.28,338.83 638.80,338.30 639.30,337.31 639.80,336.20 640.34,335.88 640.88,336.72 641.42,336.21 641.96,336.50 642.50,336.60 642.93,336.85 643.37,339.15 643.80,339.40 644.34,339.68 644.88,340.12 645.42,340.24 645.96,339.31 646.50,339.70 647.03,339.49 647.57,339.08 648.10,339.26 648.63,339.11 649.17,337.99 649.70,338.10 650.23,337.93 650.75,338.69 651.27,338.43 651.80,338.18 652.33,338.42 652.85,339.09 653.38,339.29 653.90,339.30 654.41,339.59 654.93,338.63 655.44,338.38 655.96,337.38 656.47,337.39 656.99,336.85 657.50,336.80"/>
<polyline stroke="#86400e" points="31.80,388.30 32.30,387.89 32.80,388.99 33.30,388.97 33.80,388.36 34.30,388.79 34.80,388.90 35.28,389.31 35.76,390.07 36.24,390.74 36.72,390.25 37.20,391.30 37.68,390.76 38.16,392.01 38.64,391.57 39.12,392.15 39.60,391.90 40.05,390.15 40.50,389.72 40.95,389.06 41.40,387.70 41.85,387.02 42.30,387.72 42.75,387.36 43.20,386.50 43.68,385.84 44.16,385.84 44.64,386.56 45.12,387.11 45.60,386.50 46.08,386.09 46.56,385.62 47.04,385.67 47.52,384.88 48.00,385.30 48.45,384.16 48.90,383.71 49.35,383.04 49.80,382.30 50.25,383.28 50.70,384.62 51.15,385.96 51.60,387.70 52.08,388.00 52.56,388.13 53.04,388.11 53.52,389.61 54.00,389.50 54.46,389.82 54.92,390.18 55.38,389.78 55.84,391.15 56.30,390.70 56.78,390.00 57.26,387.77 57.74,386.87 58.22,386.21 58.70,384.70 59.18,384.28 59.66,383.87 60.14,382.43 60.62,382.28 61.10,381.10 61.58,381.70 62.06,381.54 62.54,382.30 63.02,383.08 63.50,382.90 63.98,383.50 64.46,383.15 64.94,383.38 65.42,382.73 65.90,383.50 66.38,382.54 66.86,382.72 67.34,381.58 67.82,380.64 68.30,380.50 68.75,379.67 69.20,378.98 69.65,378.04 70.10,376.90 70.58,377.92 71.06,379.21 71.54,380.51 72.02,382.09 72.50,382.90 72.98,381.73 73.46,380.35 73.94,379.29 74.42,377.44 74.90,376.90 75.50,376.86 76.10,378.10 76.55,378.98 77.00,379.98 77.45,380.03 77.90,380.50 78.35,381.10 78.80,381.54 79.25,382.75 79.70,383.50 80.18,383.57 80.66,382.68 81.14,381.76 81.62,381.60 82.10,380.50 82.58,379.41 83.06,379.08 83.54,378.97 84.02,377.73 84.50,376.90 84.95,375.82 85.40,374.53 85.85,373.89 86.30,372.80 86.78,374.02 87.26,373.27 87.74,374.94 88.22,375.57 88.70,375.70 89.18,376.24 89.66,376.04 90.14,376.13 90.62,375.73 91.10,375.70 91.60,375.30 92.10,374.63 92.60,373.63 93.10,374.28 93.60,373.38 94.10,372.80 94.60,371.98 95.10,372.01 95.60,371.58 96.10,371.00 96.60,370.58 97.10,370.40 97.58,369.97 98.06,369.61 98.54,369.12 99.02,368.42 99.50,368.00 99.98,366.86 100.46,366.66 100.94,366.11 101.42,366.20 101.90,365.60 102.35,365.06 102.80,363.92 103.25,362.87 103.70,361.40 104.27,362.64 104.83,362.66 105.40,363.80 105.90,365.83 106.40,367.14 106.90,367.87 107.40,370.00 107.93,369.06 108.47,368.79 109.00,369.20 109.48,367.48 109.96,364.69 110.44,362.41 110.92,361.05 111.40,358.80 111.86,358.12 112.32,357.28 112.78,356.94 113.24,357.00 113.70,356.50 114.18,357.30 114.66,358.70 115.14,360.58 115.62,361.48 116.10,362.80 116.63,361.50 117.17,360.66 117.70,358.98 118.23,358.44 118.77,357.44 119.30,356.50 119.83,356.45 120.37,356.72 120.90,358.21 121.43,358.05 121.97,358.01 122.50,358.80 122.98,358.33 123.46,358.00 123.94,356.27 124.42,355.65 124.90,355.70 125.43,355.21 125.97,356.01 126.50,355.22 127.03,355.99 127.57,355.95 128.10,355.70 128.56,354.80 129.02,353.39 129.48,353.49 129.94,352.28 130.40,350.90 130.88,349.96 131.36,348.59 131.84,348.23 132.32,346.91 132.80,346.10 133.28,345.57 133.76,344.57 134.24,344.36 134.72,342.92 135.20,342.90 135.73,342.48 136.27,343.29 136.80,343.03 137.33,342.10 137.87,342.74 138.40,342.10 138.93,343.70 139.47,346.45 140.00,347.70 140.48,349.16 140.96,349.82 141.44,350.71 141.92,351.49 142.40,353.30 142.88,352.07 143.36,349.13 143.84,348.47 144.32,346.91 144.80,344.50 145.26,344.28 145.72,343.40 146.18,344.05 146.64,343.88 147.10,342.90 147.63,342.54 148.17,341.61 148.70,340.78 149.23,340.09 149.77,339.24 150.30,339.00 150.78,339.72 151.26,339.87 151.74,340.01 152.22,340.37 152.70,341.40 153.18,340.83 153.66,339.51 154.14,339.00 154.62,337.96 155.10,337.40 155.63,338.32 156.17,338.76 156.70,337.93 157.23,338.58 157.77,339.16 158.30,339.80 158.83,340.08 159.37,339.40 159.90,338.37 160.43,337.80 160.97,338.04 161.50,337.40 161.96,337.55 162.42,337.37 162.88,336.22 163.34,336.66 163.80,335.80 164.33,335.00 164.87,333.64 165.40,333.28 165.93,331.16 166.47,330.78 167.00,329.40 167.53,330.29 168.07,331.87 168.60,334.38 169.13,334.86 169.67,337.10 170.20,338.20 170.73,337.27 171.27,336.54 171.80,334.82 172.33,333.71 172.87,332.57 173.40,331.80 173.93,331.38 174.47,330.08 175.00,329.64 175.53,328.61 176.07,326.62 176.60,326.20 177.08,326.91 177.56,326.93 178.04,327.47 178.52,328.16 179.00,329.40 179.52,328.73 180.03,327.44 180.55,326.31 181.07,324.44 181.58,323.64 182.10,322.30 182.70,319.60 183.24,320.35 183.78,320.15 184.32,320.78 184.86,320.65 185.40,321.40 185.94,321.89 186.48,323.23 187.02,325.19 187.56,325.81 188.10,326.80 188.60,326.88 189.10,325.71 189.60,324.95 190.10,325.14 190.60,324.69 191.10,323.03 191.60,323.20 192.11,323.05 192.63,321.86 193.14,321.50 193.66,322.20 194.17,320.63 194.69,320.52 195.20,320.50 195.65,321.63 196.10,321.29 196.55,321.31 197.00,322.30 197.54,320.77 198.08,319.82 198.62,319.46 199.16,317.50 199.70,317.00 200.24,317.92 200.78,317.51 201.32,318.68 201.86,318.93 202.40,318.70 202.94,316.45 203.48,314.43 204.02,312.79 204.56,310.30 205.10,308.90 205.62,309.11 206.14,308.26 206.66,308.21 207.18,309.58 207.70,308.90 208.24,309.33 208.78,310.48 209.32,310.99 209.86,311.52 210.40,312.50 210.94,311.17 211.48,311.64 212.02,311.00 212.56,310.28 213.10,308.90 213.64,306.40 214.18,304.58 214.72,303.18 215.26,301.73 215.80,299.10 216.34,298.08 216.88,297.20 217.42,296.09 217.96,294.44 218.50,293.70 219.04,292.68 219.58,291.27 220.12,290.10 220.66,288.79 221.20,288.30 221.72,287.27 222.24,287.54 222.76,286.07 223.28,285.63 223.80,284.70 224.25,282.68 224.70,280.87 225.15,277.87 225.60,275.80 226.03,272.26 226.47,269.02 226.90,266.00 227.37,263.94 227.83,262.89 228.30,260.60 228.84,260.97 229.38,259.96 229.92,259.83 230.46,259.94 231.00,259.70 231.45,258.24 231.90,256.68 232.35,254.62 232.80,253.40 233.25,254.98 233.70,257.54 234.15,259.55 234.60,262.40 235.14,262.65 235.68,262.16 236.22,262.35 236.76,263.31 237.30,263.30 237.84,263.55 238.38,264.79 238.92,264.91 239.46,265.97 240.00,266.00 240.57,264.62 241.13,264.20 241.70,263.30 242.24,265.49 242.78,266.27 243.32,269.27 243.86,269.96 244.40,272.20 244.87,273.49 245.34,274.68 245.81,275.35 246.29,275.55 246.76,276.15 247.23,277.62 247.70,278.50 248.20,278.19 248.70,276.41 249.20,276.35 249.70,274.40 250.20,274.57 250.70,273.10 251.24,272.08 251.78,272.12 252.32,272.58 252.86,272.09 253.40,271.30 253.90,274.45 254.40,276.93 254.90,279.37 255.40,281.60 255.85,282.62 256.30,282.65 256.75,283.76 257.20,284.60 257.70,284.12 258.20,284.90 258.70,284.83 259.20,284.25 259.70,283.99 260.20,284.60 260.68,284.77 261.16,284.07 261.64,283.23 262.12,282.74 262.60,282.20 263.08,283.27 263.56,283.29 264.04,283.79 264.52,284.29 265.00,285.10 265.45,286.11 265.90,287.13 266.35,289.36 266.80,290.50 267.28,290.26 267.76,290.36 268.24,289.53 268.72,289.82 269.20,289.90 269.68,289.75 270.16,290.10 270.64,290.64 271.12,291.80 271.60,291.70 272.08,290.96 272.56,290.36 273.04,290.06 273.52,288.93 274.00,288.70 274.46,288.49 274.92,289.70 275.38,290.14 275.84,290.83 276.30,291.10 276.75,291.91 277.20,293.16 277.65,294.12 278.10,294.70 278.55,295.98 279.00,297.99 279.45,299.62 279.90,301.30 280.35,300.47 280.80,300.28 281.25,300.03 281.70,299.50 282.18,300.43 282.66,300.80 283.14,300.27 283.62,301.14 284.10,301.30 284.58,299.59 285.06,298.54 285.54,298.08 286.02,297.51 286.50,295.90 286.95,296.02 287.40,297.47 287.85,298.24 288.30,298.30 288.75,299.69 289.20,301.87 289.65,303.74 290.10,304.90 290.55,303.07 291.00,301.88 291.45,300.28 291.90,298.30 292.35,299.18 292.80,300.30 293.25,301.11 293.70,301.30 294.15,302.84 294.60,303.20 295.05,303.55 295.50,304.90 295.98,303.95 296.46,303.30 296.94,303.20 297.42,302.86 297.90,301.90 298.38,301.63 298.86,302.87 299.34,303.28 299.82,303.13 300.30,303.70 300.78,303.72 301.26,303.23 301.74,304.02 302.22,303.06 302.70,303.70 303.18,303.17 303.66,301.73 304.14,300.28 304.62,298.57 305.10,297.70 305.58,299.36 306.06,300.50 306.54,300.43 307.02,302.41 307.50,303.10 307.98,302.86 308.46,301.88 308.94,301.22 309.42,300.14 309.90,299.50 310.42,298.89 310.95,297.76 311.48,295.74 312.00,294.70 312.50,296.92 313.00,298.21 313.50,300.10 313.98,299.99 314.46,300.58 314.94,300.66 315.42,302.11 315.90,301.90 316.40,303.04 316.90,302.37 317.40,303.54 317.90,303.77 318.40,303.87 318.90,304.90 319.38,303.77 319.86,302.87 320.34,302.73 320.82,300.85 321.30,300.70 321.75,302.22 322.20,304.51 322.65,305.88 323.10,308.50 323.56,309.28 324.02,309.85 324.48,310.77 324.94,310.49 325.40,311.50 325.88,312.20 326.37,313.56 326.85,314.18 327.33,315.62 327.82,316.15 328.30,317.50 328.79,318.12 329.28,318.64 329.77,319.03 330.26,319.63 330.74,319.40 331.23,319.69 331.72,320.56 332.21,320.81 332.70,320.80 333.23,322.35 333.77,323.54 334.30,324.85 334.83,326.05 335.37,328.48 335.90,329.50 336.37,329.59 336.84,331.10 337.31,331.45 337.79,332.67 338.26,333.01 338.73,333.93 339.20,333.90 339.67,334.18 340.14,335.47 340.61,336.36 341.09,336.78 341.56,337.83 342.03,338.41 342.50,339.40 342.97,340.53 343.44,340.87 343.91,342.58 344.39,343.67 344.86,344.56 345.33,345.77 345.80,347.00 346.35,349.05 346.90,350.56 347.45,351.94 348.00,353.60 348.55,353.53 349.10,352.88 349.65,352.36 350.20,352.50 350.73,352.91 351.27,354.39 351.80,355.94 352.33,357.43 352.87,358.46 353.40,359.10 353.87,360.04 354.34,361.64 354.81,361.83 355.29,363.28 355.76,363.62 356.23,365.01 356.70,365.60 357.17,366.91 357.64,366.58 358.11,367.02 358.59,368.28 359.06,368.79 359.53,369.17 360.00,370.00 360.50,371.43 361.00,374.09 361.50,376.27 362.00,378.50 362.50,378.74 363.00,379.76 363.50,379.74 364.00,380.00 364.50,379.83 365.00,379.56 365.50,378.85 366.00,378.00 366.50,379.24 367.00,380.84 367.50,381.95 368.00,383.00 368.50,383.83 369.00,384.43 369.50,384.74 370.00,385.50 370.50,386.18 371.00,386.69 371.50,387.61 372.00,387.90 372.50,388.48 373.00,388.50 373.50,389.47 374.00,390.14 374.50,390.45 375.00,390.69 375.50,391.50 376.00,390.50 376.50,390.46 377.00,389.50 377.50,390.77 378.00,391.06 378.50,391.26 379.00,392.50 379.50,393.37 380.00,393.28 380.50,393.65 381.00,393.46 381.50,394.50 382.00,392.85 382.50,391.51 383.00,389.50 383.50,389.77 384.00,390.05 384.50,390.84 385.00,391.00 385.50,390.83 386.00,392.01 386.50,393.12 387.00,393.00 387.50,392.60 388.00,391.53 388.50,391.26 389.00,390.48 389.50,389.26 390.00,389.00 390.50,389.09 391.00,390.54 391.50,390.18 392.00,390.40 392.50,391.96 393.00,392.00 393.50,392.23 394.00,392.22 394.50,392.62 395.00,393.13 395.50,393.00 396.00,393.54 396.50,395.21 397.00,396.30 397.50,397.44 398.00,398.00 398.50,396.68 399.00,396.15 399.50,394.62 400.00,394.00 400.50,394.67 401.00,394.71 401.50,396.16 402.00,396.85 402.50,396.68 403.00,397.50 403.50,397.61 404.00,399.15 404.50,399.00 405.00,398.59 405.50,398.08 406.00,396.24 406.50,396.76 407.00,395.50 407.50,395.59 408.00,395.08 408.50,395.15 409.00,395.53 409.50,395.48 410.00,395.00 410.50,395.07 411.00,396.18 411.50,396.03 412.00,397.66 412.50,397.42 413.00,398.00 413.50,399.08 414.00,399.32 414.50,399.65 415.00,400.00 415.50,398.79 416.00,398.29 416.50,396.87 417.00,396.50 417.50,396.41 418.00,397.64 418.50,397.56 419.00,398.52 419.50,398.22 420.00,399.00 420.50,399.72 421.00,400.14 421.50,399.98 422.00,400.12 422.50,400.94 423.00,401.50 423.50,401.49 424.00,400.94 424.50,401.06 425.00,400.88 425.50,401.50 426.00,400.97 426.50,400.71 427.00,399.10 427.50,398.18 428.00,398.45 428.50,397.50 429.00,398.14 429.50,398.55 430.00,398.26 430.50,398.08 431.00,398.50 431.50,399.57 432.00,399.17 432.50,400.57 433.00,400.33 433.50,401.50 434.00,401.94 434.50,402.66 435.00,403.08 435.50,403.37 436.00,404.04 436.50,405.00 437.00,405.15 437.50,404.35 438.00,404.21 438.50,403.40 439.00,403.50 439.49,403.93 439.98,403.53 440.47,404.03 440.96,404.61 441.44,404.86 441.93,403.66 442.42,404.85 442.91,405.07 443.40,404.70 443.90,404.08 444.40,403.80 444.90,403.71 445.40,403.82 445.90,402.73 446.40,402.50 446.90,403.52 447.40,403.83 447.90,403.46 448.40,405.01 448.90,404.24 449.40,405.40 449.86,404.16 450.32,404.15 450.78,402.56 451.24,402.27 451.70,401.70 452.20,401.07 452.70,401.41 453.20,401.83 453.70,401.80 454.20,400.47 454.70,401.00 455.20,399.39 455.70,399.48 456.20,398.00 456.75,398.48 457.30,399.93 457.85,400.84 458.40,402.50 458.90,401.79 459.40,401.57 459.90,402.29 460.40,402.31 460.90,402.09 461.40,401.70 461.90,402.68 462.40,402.93 462.90,403.05 463.40,403.88 463.90,404.86 464.40,404.70 464.90,404.15 465.40,402.84 465.90,401.83 466.40,402.31 466.90,401.08 467.40,400.20 467.90,400.37 468.40,401.11 468.90,401.43 469.40,401.76 469.90,401.50 470.40,402.50 470.93,402.82 471.46,403.43 471.99,403.66 472.51,405.15 473.04,405.04 473.57,405.90 474.10,406.20 474.60,406.37 475.10,406.27 475.60,406.11 476.10,406.02 476.60,405.19 477.10,405.40 477.60,405.58 478.10,403.94 478.60,404.54 479.10,403.96 479.60,403.48 480.10,402.50 480.58,401.77 481.05,401.73 481.52,402.64 482.00,402.06 482.48,401.82 482.95,402.58 483.42,401.16 483.90,401.70 484.45,402.49 485.00,403.12 485.55,403.43 486.10,404.70 486.60,405.42 487.10,406.72 487.60,407.84 488.10,407.50 488.60,409.07 489.10,409.90 489.63,408.80 490.16,409.26 490.69,407.73 491.21,407.13 491.74,407.10 492.27,407.05 492.80,406.20 493.28,406.31 493.75,406.43 494.23,407.74 494.70,408.13 495.18,408.57 495.65,408.18 496.12,408.72 496.60,409.20 497.10,409.21 497.60,410.01 498.10,410.06 498.60,410.44 499.10,411.43 499.60,411.40 500.13,411.82 500.66,411.09 501.19,410.20 501.71,410.76 502.24,410.26 502.77,410.80 503.30,409.90 503.80,409.84 504.30,409.64 504.80,409.08 505.30,408.48 505.80,408.62 506.30,407.70 506.78,408.35 507.25,407.78 507.73,407.78 508.20,408.27 508.68,408.67 509.15,408.26 509.62,408.80 510.10,409.20 510.59,409.50 511.08,408.96 511.57,410.24 512.06,410.21 512.54,409.94 513.03,410.12 513.52,410.39 514.01,410.56 514.50,411.00 515.00,411.48 515.50,411.27 516.00,411.44 516.50,411.04 517.00,412.25 517.50,411.56 518.00,411.69 518.50,411.46 519.00,412.20 519.49,412.70 519.97,411.83 520.46,412.26 520.94,412.11 521.43,412.00 521.91,411.61 522.40,411.00 522.88,412.35 523.37,413.09 523.85,413.67 524.33,413.49 524.82,414.78 525.30,415.50 525.77,414.48 526.25,413.94 526.73,412.52 527.20,411.28 527.67,410.22 528.15,408.56 528.62,408.24 529.10,406.50 529.59,407.03 530.07,407.02 530.56,407.44 531.04,408.49 531.53,408.19 532.01,408.01 532.50,408.80 532.97,409.26 533.44,410.98 533.91,411.76 534.39,413.20 534.86,413.14 535.33,414.42 535.80,415.50 536.29,415.35 536.77,413.93 537.26,413.52 537.74,413.68 538.23,412.81 538.71,412.12 539.20,412.20 539.69,411.69 540.17,412.04 540.66,411.72 541.14,410.92 541.63,410.74 542.11,411.66 542.60,411.00 543.07,411.69 543.54,411.51 544.01,412.96 544.49,412.27 544.96,413.24 545.43,414.40 545.90,414.40 546.40,414.49 546.90,413.70 547.40,414.35 547.90,413.74 548.40,413.91 548.90,413.75 549.40,412.90 549.90,413.05 550.40,412.60 550.90,412.86 551.40,413.62 551.90,413.62 552.40,413.72 552.90,414.04 553.40,414.50 553.90,413.66 554.40,413.78 554.90,414.40 555.40,414.50 555.90,414.29 556.40,413.69 556.90,413.40 557.40,413.04 557.90,413.47 558.40,413.10 558.90,412.56 559.40,412.20 559.90,411.68 560.40,412.94 560.90,412.51 561.40,412.25 561.90,412.53 562.40,413.20 562.90,412.36 563.40,412.65 563.90,413.30 564.40,412.90 564.90,413.60 565.40,413.28 565.90,413.47 566.40,412.75 566.90,412.67 567.40,412.52 567.90,412.36 568.40,412.20 568.89,412.90 569.37,413.93 569.86,414.76 570.34,414.64 570.83,415.60 571.31,415.79 571.80,416.70 572.29,416.04 572.78,415.95 573.27,415.69 573.76,415.26 574.24,415.48 574.73,413.96 575.22,414.25 575.71,414.37 576.20,413.30 576.69,412.83 577.17,411.79 577.66,410.72 578.14,409.96 578.63,409.91 579.11,409.05 579.60,407.70 580.09,408.89 580.57,410.17 581.06,411.17 581.54,412.01 582.03,412.32 582.51,413.39 583.00,414.40 583.49,414.50 583.97,413.59 584.46,413.81 584.94,413.12 585.43,412.60 585.91,412.45 586.40,412.20 586.87,412.13 587.34,412.94 587.81,413.50 588.29,413.41 588.76,414.10 589.23,414.69 589.70,415.50 590.20,415.76 590.70,415.14 591.20,414.47 591.70,415.22 592.20,413.94 592.70,414.05 593.20,414.12 593.70,413.81 594.20,413.30 594.70,413.08 595.20,413.44 595.70,412.91 596.20,413.11 596.70,412.68 597.20,413.23 597.70,412.75 598.20,411.75 598.70,412.20 599.19,412.00 599.67,413.48 600.16,412.76 600.64,412.79 601.13,413.43 601.61,414.06 602.10,414.40 602.60,414.03 603.10,412.26 603.60,411.71 604.10,410.87 604.60,408.82 605.10,408.56 605.60,408.09 606.10,406.47 606.60,405.40 607.10,400.21 607.60,394.72 608.10,389.70 608.55,387.80 609.00,385.31 609.45,381.57 609.90,379.60 610.43,381.54 610.97,383.22 611.50,385.20 612.05,388.82 612.60,391.42 613.15,395.00 613.70,398.70 614.20,401.19 614.70,404.27 615.20,407.51 615.70,410.40 616.20,413.10 616.70,415.50 617.20,415.83 617.70,415.08 618.20,415.58 618.70,416.05 619.20,415.60 619.70,415.98 620.20,416.61 620.70,415.58 621.20,416.20 621.67,416.38 622.14,415.02 622.61,415.10 623.09,415.51 623.56,414.21 624.03,414.34 624.50,414.00 625.00,413.98 625.50,414.74 626.00,414.99 626.50,414.10 627.00,414.49 627.50,415.15 628.00,414.76 628.50,414.40 629.00,414.90 629.51,415.26 630.02,414.67 630.53,414.88 631.04,414.21 631.55,415.58 632.05,415.12 632.56,415.50 633.07,415.56 633.58,414.57 634.09,414.96 634.60,414.90 635.10,415.02 635.60,415.66 636.10,415.98 636.60,415.32 637.10,415.58 637.60,416.39 638.10,416.18 638.60,415.98 639.10,416.70 639.60,416.14 640.10,416.52 640.60,416.44 641.10,416.81 641.60,416.08 642.10,416.05 642.60,415.28 643.10,415.51 643.60,415.50 644.10,415.07 644.60,415.53 645.10,414.81 645.60,414.61 646.10,414.70 646.60,414.73 647.10,414.42 647.60,414.67 648.10,414.40 648.60,414.58 649.10,416.18 649.60,416.54 650.10,416.94 650.60,416.89 651.10,417.89 651.60,419.02 652.10,419.58 652.60,420.00 653.10,419.57 653.60,418.81 654.10,417.14 654.60,416.52 655.10,415.43 655.60,414.28 656.10,413.43 656.60,412.73 657.10,412.20"/>
</g>
<g stroke="#111" fill="none">
<line x1="31.5" y1="1" x2="31.5" y2="445.2" stroke-width="1.1"/>
<line x1="30.9" y1="1.35" x2="658.8" y2="1.35" stroke-width="1.3" stroke="#000"/>
<line x1="658" y1="1" x2="658" y2="445.2" stroke-width="1.5" stroke="#000"/>
<line x1="32" y1="439" x2="657.2" y2="439" stroke-width="1.5" stroke="#000"/>
</g>
<g stroke="#222" stroke-width="1.3">
<line x1="66.13" y1="439" x2="66.13" y2="443"/>
<line x1="101.07" y1="439" x2="101.07" y2="443"/>
<line x1="170.53" y1="439" x2="170.53" y2="443"/>
<line x1="205.07" y1="439" x2="205.07" y2="443"/>
<line x1="274.50" y1="439" x2="274.50" y2="443"/>
<line x1="309.40" y1="439" x2="309.40" y2="443"/>
<line x1="379.23" y1="439" x2="379.23" y2="443"/>
<line x1="414.17" y1="439" x2="414.17" y2="443"/>
<line x1="483.70" y1="439" x2="483.70" y2="443"/>
<line x1="518.30" y1="439" x2="518.30" y2="443"/>
<line x1="587.83" y1="439" x2="587.83" y2="443"/>
<line x1="622.77" y1="439" x2="622.77" y2="443"/>
<line x1="136.30" y1="439" x2="136.30" y2="445.2"/>
<line x1="239.90" y1="439" x2="239.90" y2="445.2"/>
<line x1="344.60" y1="439" x2="344.60" y2="445.2"/>
<line x1="449.40" y1="439" x2="449.40" y2="445.2"/>
<line x1="553.20" y1="439" x2="553.20" y2="445.2"/>
</g>
<g font-size="17.6" fill="#1c1c1c">
<text x="30.7" y="469.3" text-anchor="middle">10</text>
<text x="135.5" y="469.3" text-anchor="middle">15</text>
<text x="239.1" y="469.3" text-anchor="middle">20</text>
<text x="343.8" y="469.3" text-anchor="middle">25</text>
<text x="448.6" y="469.3" text-anchor="middle">30</text>
<text x="552.4" y="469.3" text-anchor="middle">35</text>
<text x="657.2" y="469.3" text-anchor="middle">40</text>
</g>
<text x="343.7" y="501" text-anchor="middle" font-size="19.5" fill="#1c1c1c">2 theta</text>
<text transform="translate(17,218.9) rotate(-90) scale(0.9375,1)" text-anchor="middle" font-size="20.6" fill="#1c1c1c">Intensity (a.u.)</text>
<g stroke-width="1.6">
<line x1="441.5" y1="29.5" x2="481.5" y2="29.5" stroke="#1010b8"/>
<line x1="441.5" y1="48" x2="481.5" y2="48" stroke="#f01010"/>
<line x1="441.5" y1="67.8" x2="481.5" y2="67.8" stroke="#86400e"/>
</g>
<g font-size="16.8" fill="#1c1c1c" letter-spacing="0.6">
<text x="489.5" y="34.5">PA6</text>
<text x="489.5" y="53.6">PA6-<tspan font-style="italic">g</tspan>-GMA</text>
<text x="489.5" y="72.4">TMA-(PA6-<tspan font-style="italic">g</tspan>-GMA)</text>
</g>
</svg>
</body></html>
